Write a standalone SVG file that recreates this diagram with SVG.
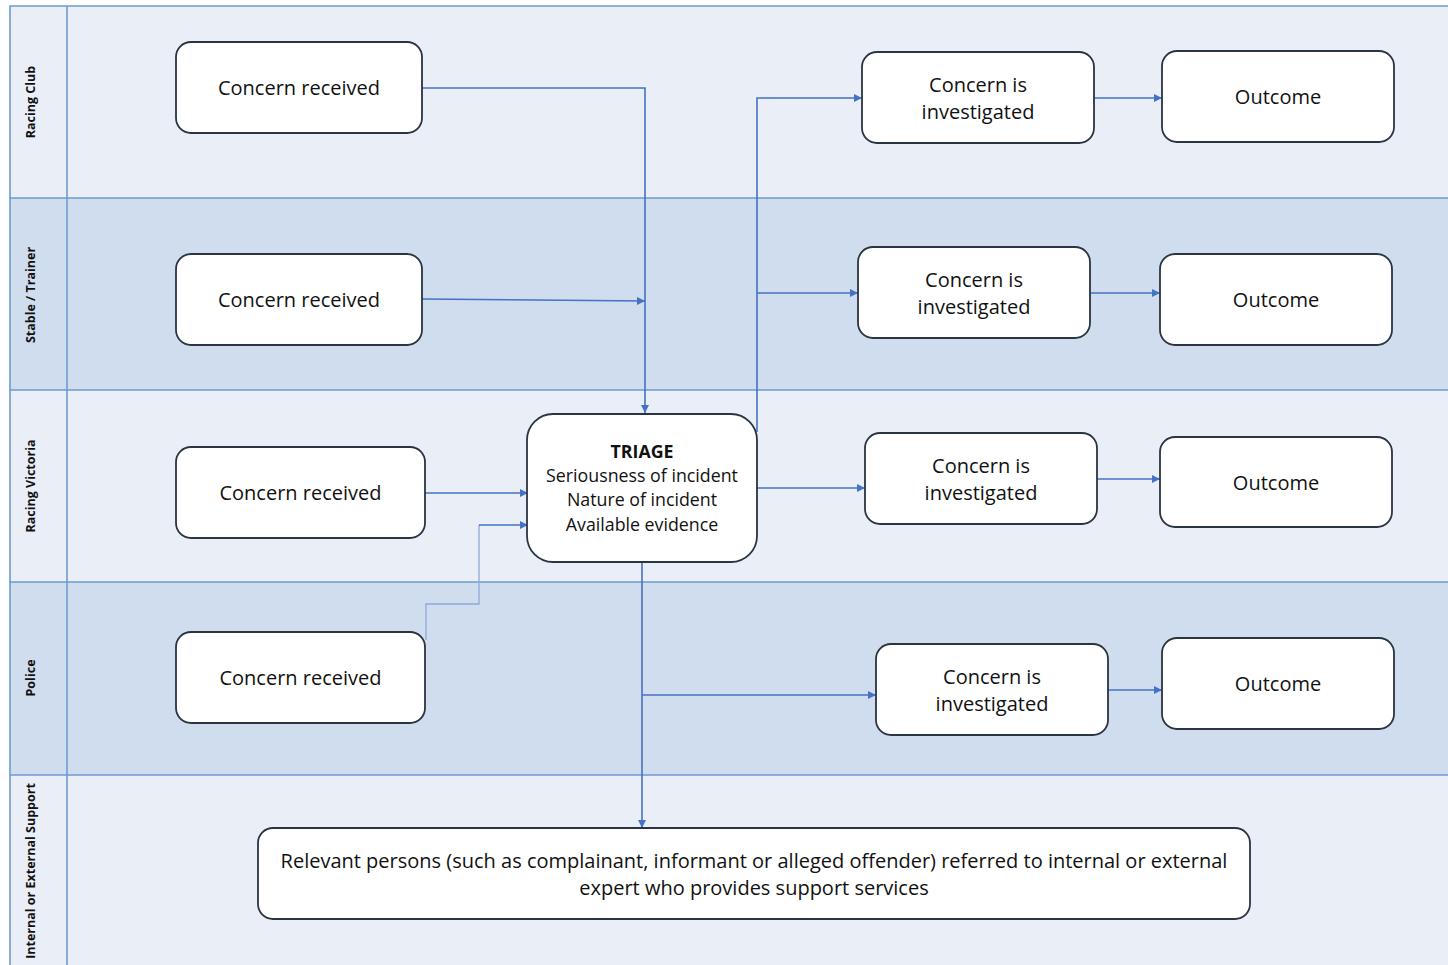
<svg xmlns="http://www.w3.org/2000/svg" width="1448" height="965" viewBox="0 0 1448 965">
<defs>
<marker id="ah" viewBox="0 0 10 10" refX="10" refY="5" markerWidth="8" markerHeight="8" markerUnits="userSpaceOnUse" orient="auto"><path d="M0,0 L10,5 L0,10 z" fill="#4472C4"/></marker>
<style>
.lane-l{fill:#E9EEF7}
.lane-d{fill:#D0DDEE}
.grid{stroke:#6F9BD0;stroke-width:1.6;fill:none}
.lbl{font-family:"Open Sans","Liberation Sans",sans-serif;font-weight:bold;font-size:12.5px;fill:#111;text-anchor:middle}
.box{fill:#fff;stroke:#2B3443;stroke-width:1.8}
.t{font-family:"Open Sans","Liberation Sans",sans-serif;font-size:20px;fill:#111;text-anchor:middle}
.tt{font-family:"Open Sans","Liberation Sans",sans-serif;font-size:17.8px;fill:#111;text-anchor:middle}
.c{stroke:#4472C4;stroke-width:1.6;fill:none}
.cf{stroke:#8EAADB;stroke-width:1.3;fill:none}
</style>
</defs>
<g id="lanes">
<rect class="lane-l" x="0" y="0" width="1448" height="198"/>
<rect class="lane-d" x="0" y="198" width="1448" height="192"/>
<rect class="lane-l" x="0" y="390" width="1448" height="192"/>
<rect class="lane-d" x="0" y="582" width="1448" height="193"/>
<rect class="lane-l" x="0" y="775" width="1448" height="190"/>
<rect x="0" y="0" width="10" height="965" fill="#fff"/>
<rect x="0" y="0" width="1448" height="6" fill="#fff"/>
<path class="grid" d="M10,966 V6 H1449 M67,6 V966 M10,198 H1449 M10,390 H1449 M10,582 H1449 M10,775 H1449"/>
<text class="lbl" transform="translate(35,102) rotate(-90)">Racing Club</text>
<text class="lbl" transform="translate(35,295) rotate(-90)">Stable / Trainer</text>
<text class="lbl" transform="translate(35,486) rotate(-90)">Racing Victoria</text>
<text class="lbl" transform="translate(35,678) rotate(-90)">Police</text>
<text class="lbl" transform="translate(35,871) rotate(-90)">Internal or External Support</text>
</g>
<g id="connectors">
<path class="c" d="M422,88 H645 V413" marker-end="url(#ah)"/>
<path class="c" d="M422,299 L645,301" marker-end="url(#ah)"/>
<path class="c" d="M425,493 H528" marker-end="url(#ah)"/>
<path class="cf" d="M426,640 V604 H479 V525"/>
<path class="c" d="M479,525 H528" marker-end="url(#ah)"/>
<path class="c" d="M757,432 V98 H862" marker-end="url(#ah)"/>
<path class="c" d="M757,293 H858" marker-end="url(#ah)"/>
<path class="c" d="M757,488 H865" marker-end="url(#ah)"/>
<path class="c" d="M642,562 V828" marker-end="url(#ah)"/>
<path class="c" d="M642,695 H876" marker-end="url(#ah)"/>
<path class="c" d="M1094,98 H1162" marker-end="url(#ah)"/>
<path class="c" d="M1090,293 H1160" marker-end="url(#ah)"/>
<path class="c" d="M1097,479 H1160" marker-end="url(#ah)"/>
<path class="c" d="M1108,690 H1162" marker-end="url(#ah)"/>
</g>
<g id="rc-received"><rect class="box" x="176" y="42" width="246" height="91" rx="15"/><text class="t" x="299" y="95">Concern received</text></g>
<g id="st-received"><rect class="box" x="176" y="254" width="246" height="91" rx="15"/><text class="t" x="299" y="307">Concern received</text></g>
<g id="rv-received"><rect class="box" x="176" y="447" width="249" height="91" rx="15"/><text class="t" x="300.5" y="500">Concern received</text></g>
<g id="po-received"><rect class="box" x="176" y="632" width="249" height="91" rx="15"/><text class="t" x="300.5" y="685">Concern received</text></g>
<g id="triage"><rect class="box" x="527" y="414" width="230" height="148" rx="26"/>
<text class="tt" x="642" y="458" font-weight="bold">TRIAGE</text>
<text class="tt" x="642" y="482">Seriousness of incident</text>
<text class="tt" x="642" y="506">Nature of incident</text>
<text class="tt" x="642" y="531">Available evidence</text></g>
<g id="rc-investigated"><rect class="box" x="862" y="52" width="232" height="91" rx="15"/><text class="t" x="978" y="92">Concern is</text><text class="t" x="978" y="119">investigated</text></g>
<g id="st-investigated"><rect class="box" x="858" y="247" width="232" height="91" rx="15"/><text class="t" x="974" y="287">Concern is</text><text class="t" x="974" y="314">investigated</text></g>
<g id="rv-investigated"><rect class="box" x="865" y="433" width="232" height="91" rx="15"/><text class="t" x="981" y="473">Concern is</text><text class="t" x="981" y="500">investigated</text></g>
<g id="po-investigated"><rect class="box" x="876" y="644" width="232" height="91" rx="15"/><text class="t" x="992" y="684">Concern is</text><text class="t" x="992" y="711">investigated</text></g>
<g id="rc-outcome"><rect class="box" x="1162" y="51" width="232" height="91" rx="15"/><text class="t" x="1278" y="104">Outcome</text></g>
<g id="st-outcome"><rect class="box" x="1160" y="254" width="232" height="91" rx="15"/><text class="t" x="1276" y="307">Outcome</text></g>
<g id="rv-outcome"><rect class="box" x="1160" y="437" width="232" height="90" rx="15"/><text class="t" x="1276" y="490">Outcome</text></g>
<g id="po-outcome"><rect class="box" x="1162" y="638" width="232" height="91" rx="15"/><text class="t" x="1278" y="691">Outcome</text></g>
<g id="support"><rect class="box" x="258" y="828" width="992" height="91" rx="15"/>
<text class="t" x="754" y="868">Relevant persons (such as complainant, informant or alleged offender) referred to internal or external</text>
<text class="t" x="754" y="895">expert who provides support services</text></g>
</svg>
